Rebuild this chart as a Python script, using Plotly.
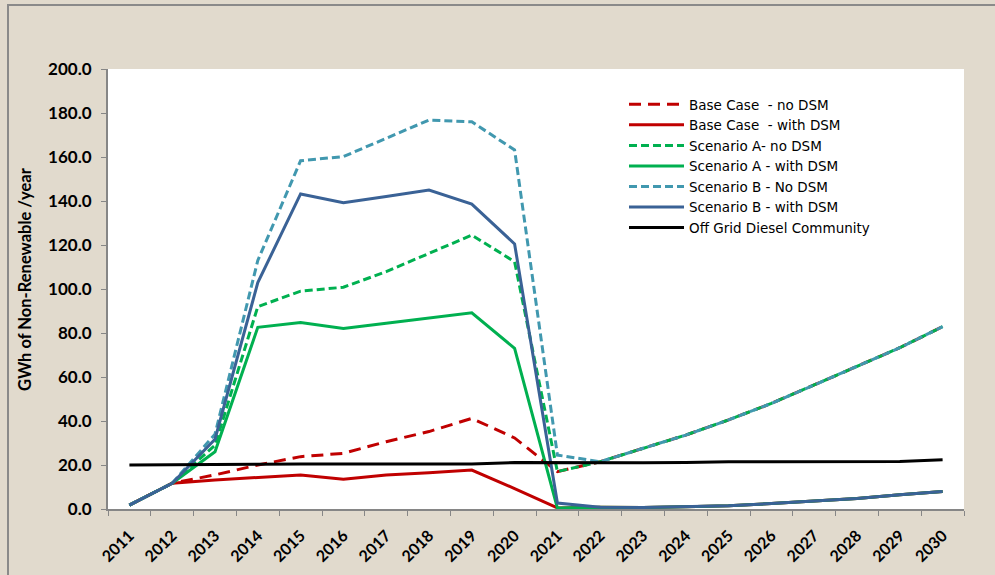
import plotly.graph_objects as go

years = [str(y) for y in range(2011, 2031)]

base_no_dsm = [1.8, 11.7, 15.5, 20.0, 23.8, 25.3, 30.6, 35.2, 41.2, 32.3, 17.0,
               21.5, 27.6, 33.6, 40.5, 48.0, 56.4, 64.7, 73.3, 82.9]
base_with_dsm = [1.8, 11.7, 13.2, 14.2, 15.5, 13.5, 15.5, 16.5, 17.7, 9.3, 0.5,
                 0.8, 0.7, 1.0, 1.5, 2.5, 3.8, 4.8, 6.5, 7.9]
scen_a_no_dsm = [1.8, 11.7, 29.0, 92.0, 99.0, 100.8, 107.9, 116.2, 124.5, 112.4, 17.0,
                 21.5, 27.6, 33.6, 40.5, 48.0, 56.4, 64.7, 73.3, 82.9]
scen_a_with_dsm = [1.8, 11.7, 26.0, 82.6, 84.8, 82.0, 84.4, 86.8, 89.2, 73.0, 0.4,
                   0.8, 0.7, 1.0, 1.5, 2.5, 3.8, 4.8, 6.5, 7.9]
scen_b_no_dsm = [1.8, 11.7, 34.0, 113.0, 158.3, 160.2, 168.5, 176.8, 176.0, 163.2, 24.5,
                 21.5, 27.6, 33.6, 40.5, 48.0, 56.4, 64.7, 73.3, 82.9]
scen_b_with_dsm = [1.8, 11.7, 31.7, 102.9, 143.2, 139.2, 142.0, 145.0, 138.6, 120.5, 2.7,
                   0.8, 0.7, 1.0, 1.5, 2.5, 3.8, 4.8, 6.5, 7.9]
diesel_offgrid = [20.0, 20.0, 20.1, 20.3, 20.4, 20.4, 20.4, 20.4, 20.5, 21.1, 21.0,
                  21.0, 21.0, 21.1, 21.5, 21.5, 21.5, 21.5, 21.6, 22.4]

y_ticks = [0, 20, 40, 60, 80, 100, 120, 140, 160, 180, 200]
y_tick_text = [f"{v:.1f}" for v in y_ticks]

series = [
    ("Base Case  - no DSM", base_no_dsm, "#C00000", "12px,7px"),
    ("Base Case  - with DSM", base_with_dsm, "#C00000", "solid"),
    ("Scenario A- no DSM", scen_a_no_dsm, "#00B050", "8px,4px"),
    ("Scenario A - with DSM", scen_a_with_dsm, "#00B050", "solid"),
    ("Scenario B - No DSM", scen_b_no_dsm, "#4198AF", "8px,4px"),
    ("Scenario B - with DSM", scen_b_with_dsm, "#3A6296", "solid"),
    ("Off Grid Diesel Community", diesel_offgrid, "#000000", "solid"),
]

fig = go.Figure()
for name, vals, color, dash in series:
    fig.add_trace(go.Scatter(
        x=years, y=vals, name=name, mode="lines",
        line=dict(color=color, width=3, dash=dash),
    ))

W, H = 995, 575
L, R, T, B = 108, 31, 69, 66
pw, ph = W - L - R, H - T - B


def px_x(p):
    return (p - L) / pw


def px_y(p):
    return (H - B - p) / ph


fig.update_layout(
    width=W, height=H,
    margin=dict(l=L, r=R, t=T, b=B, autoexpand=False),
    paper_bgcolor="#E1DACD",
    plot_bgcolor="#FFFFFF",
    font=dict(family="Lato, Liberation Sans, sans-serif", color="#000000"),
    showlegend=True,
    legend=dict(
        x=px_x(624), y=px_y(89), xanchor="left", yanchor="top",
        bgcolor="rgba(0,0,0,0)", borderwidth=0,
        font=dict(size=13.5, family="DejaVu Sans, sans-serif"),
        itemwidth=55, tracegroupgap=0,
    ),
    xaxis=dict(
        type="category", range=[-0.5, 19.5], automargin=False,
        tickson="boundaries", ticks="outside", ticklen=5, tickcolor="#868686",
        showline=True, linecolor="#868686", linewidth=2,
        showgrid=False, zeroline=False,
        tickangle=-45,
        tickfont=dict(size=16, weight="bold"),
        ticklabelstandoff=9,
    ),
    yaxis=dict(
        range=[0, 200], tickvals=y_ticks, ticktext=y_tick_text, automargin=False,
        ticks="outside", ticklen=5, tickcolor="#868686",
        showline=True, linecolor="#868686", linewidth=2,
        showgrid=False, zeroline=False,
        tickfont=dict(size=17, weight="bold"),
        ticklabelstandoff=6,
    ),
    shapes=[
        dict(type="rect", xref="paper", yref="paper",
             x0=px_x(8), x1=px_x(1010), y0=px_y(590), y1=px_y(5),
             line=dict(color="#8A8A8A", width=2), fillcolor="rgba(0,0,0,0)",
             layer="below"),
    ],
    annotations=[
        dict(text="<b>GWh of Non-Renewable /year</b>", textangle=-90,
             xref="paper", yref="paper", x=px_x(25), y=px_y(279),
             xanchor="center", yanchor="middle",
             showarrow=False, font=dict(size=16.5)),
    ],
)

fig.write_html("out.html")
